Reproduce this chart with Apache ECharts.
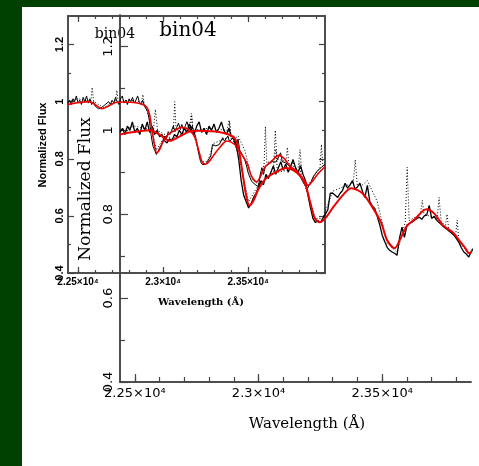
<!DOCTYPE html>
<html>
<head>
<meta charset="utf-8">
<script src="https://cdn.jsdelivr.net/npm/echarts@6/dist/echarts.min.js"></script>
<style>
  html, body { margin: 0; padding: 0; background: #004000; }
  #paper { position: absolute; left: 22px; top: 7px; width: 457px; height: 459px; background: #fff; }
  #chart { position: absolute; left: 0; top: 0; width: 479px; height: 466px; }
</style>
</head>
<body>
<div id="paper"></div>
<div id="chart"></div>
<script>
// observed spectrum (solid black)
const obsWave = [
  22440, 22450, 22460, 22470, 22480, 22490, 22500, 22510, 22520, 22530, 22540, 22550, 22560, 22570, 22580, 22590,
  22600, 22610, 22620, 22630, 22640, 22650, 22660, 22670, 22680, 22690,
  22700, 22710, 22720, 22730, 22740, 22750, 22760, 22770, 22780, 22790, 22800, 22810, 22820, 22830, 22840, 22850, 22860, 22870, 22880, 22890,
  22900, 22910, 22920, 22930, 22940, 22950, 22960, 22970, 22980, 22990,
  23000, 23010, 23020, 23030, 23040, 23050, 23060, 23070, 23080, 23090, 23100, 23110, 23120, 23130, 23140, 23150, 23160, 23170, 23180, 23190,
  23200, 23210, 23220, 23230, 23240, 23250, 23260, 23270, 23280, 23290,
  23300, 23310, 23320, 23330, 23340, 23350, 23360, 23370, 23380, 23390, 23400, 23410, 23420, 23430, 23440, 23450, 23460, 23470, 23480, 23490,
  23500, 23510, 23520, 23530, 23540, 23550, 23560, 23570, 23580, 23590,
  23600, 23610, 23620, 23630, 23640, 23650, 23660, 23670, 23680, 23690, 23700, 23710, 23720, 23730, 23740, 23750, 23760, 23770, 23780, 23790,
  23800, 23810, 23820, 23830, 23840, 23850, 23860, 23870, 23880, 23890, 23900, 23910, 23920, 23930, 23940, 23950
];
const obsFlux = [
  0.995, 1.005, 0.99, 1.01, 1.0, 1.02, 0.995, 1.005, 0.99, 1.015, 1.0, 1.02, 0.995, 1.01, 0.99, 1.0,
  0.985, 0.99, 0.975, 0.97, 0.98, 0.975, 0.99, 0.985, 1.0, 0.99,
  1.005, 0.995, 1.015, 1.0, 0.99, 1.01, 1.02, 0.995, 1.005, 0.99, 1.01, 1.0, 1.015, 0.995, 1.005, 1.02, 1.0, 0.99, 1.005, 0.985,
  0.985, 0.965, 0.93, 0.88, 0.845, 0.83, 0.815, 0.825, 0.84, 0.85,
  0.865, 0.88, 0.87, 0.895, 0.885, 0.9, 0.915, 0.895, 0.91, 0.925, 0.905, 0.92, 0.9, 0.915, 0.93, 0.91, 0.9, 0.915, 0.895, 0.88,
  0.845, 0.815, 0.79, 0.78, 0.785, 0.78, 0.79, 0.8, 0.81, 0.85,
  0.85, 0.845, 0.84, 0.85, 0.857, 0.874, 0.862, 0.87, 0.88, 0.86, 0.865, 0.874, 0.855, 0.84, 0.869, 0.83, 0.82, 0.814, 0.795, 0.775,
  0.75, 0.735, 0.721, 0.714, 0.71, 0.707, 0.702, 0.743, 0.769, 0.745,
  0.774, 0.778, 0.781, 0.785, 0.79, 0.793, 0.788, 0.796, 0.798, 0.821, 0.79, 0.795, 0.786, 0.78, 0.775, 0.769, 0.765, 0.76, 0.755, 0.75,
  0.742, 0.733, 0.72, 0.71, 0.705, 0.698, 0.71, 0.72, 0.735, 0.745, 0.75, 0.76, 0.765, 0.77, 0.775, 0.78
];

// second spectrum (dotted), with the emission spikes
const dotWave = [22440, 22500, 22575, 22583, 22592, 22650, 22720, 22728, 22736, 22800, 22873, 22881, 22889, 22920, 22960, 23000,
  23060, 23068, 23076, 23160, 23168, 23176, 23230, 23260, 23300, 23383, 23391, 23399, 23420, 23440, 23480, 23520, 23560,
  23593, 23601, 23609, 23655, 23662, 23669, 23722, 23730, 23738, 23755, 23762, 23769, 23796, 23803, 23810, 23850, 23900,
  23922, 23930, 23938, 23950];
const dotFlux = [1.0, 1.01, 1.0, 1.05, 1.0, 0.98, 1.0, 1.04, 1.0, 1.005, 1.0, 1.025, 0.99, 0.94, 0.83, 0.87,
  0.9, 1.0, 0.9, 0.91, 0.954, 0.89, 0.79, 0.79, 0.855, 0.875, 0.93, 0.87, 0.87, 0.88, 0.83, 0.73, 0.71,
  0.78, 0.912, 0.785, 0.8, 0.833, 0.8, 0.79, 0.84, 0.785, 0.77, 0.8, 0.765, 0.745, 0.786, 0.735, 0.705, 0.75,
  0.77, 0.85, 0.775, 0.78];

// model (red)
const modelWave = [22440, 22480, 22520, 22560, 22600, 22640, 22680, 22720, 22760, 22800, 22840, 22880, 22905, 22920, 22935,
  22950, 22963, 22980, 23000, 23030, 23070, 23110, 23140, 23170, 23190, 23210, 23228, 23248, 23270, 23300, 23340, 23375,
  23420, 23460, 23495, 23520, 23550, 23575, 23600, 23635, 23678, 23710, 23745, 23785, 23820, 23835, 23852, 23875, 23900,
  23925, 23950];
const modelFlux = [0.99, 0.995, 0.998, 1.0, 0.99, 0.975, 0.985, 0.997, 0.999, 0.998, 0.996, 0.99, 0.98, 0.955, 0.9,
  0.845, 0.821, 0.833, 0.86, 0.885, 0.9, 0.91, 0.905, 0.89, 0.87, 0.826, 0.79, 0.781, 0.79, 0.815, 0.845, 0.862,
  0.85, 0.817, 0.781, 0.738, 0.719, 0.743, 0.772, 0.79, 0.812, 0.802, 0.774, 0.757, 0.731, 0.72, 0.707, 0.72, 0.74,
  0.757, 0.772];

// tick positions
const xMajorTicks = [22500, 23000, 23500];
const xMinorTicks = [22500, 22600, 22700, 22800, 22900, 23000, 23100, 23200, 23300, 23400, 23500, 23600, 23700, 23800, 23900];
const yMajorTicks = [0.4, 0.6, 0.8, 1.0, 1.2];
const yMinorTicks = [0.5, 0.7, 0.9, 1.1];

const titleText = 'bin04';
const xTitle = 'Wavelength (Å)';
const yTitle = 'Normalized Flux';

// axis ranges of the two overlapping plots
const bigX = [22440, 23859], bigY = [0.4, 1.275];
const smallX = [22441, 23951], smallY = [0.4, 1.3];

const pair = (xs, ys) => xs.map((x, i) => [x, ys[i]]);
const inRange = (vals, r) => vals.filter(v => v >= r[0] && v <= r[1]);
const xFmt = v => (v / 10000) + '×10⁴';
const lineCol = '#444';

function xAx(grid, range, pos, ticks, len, label) {
  return {
    type: 'value', gridIndex: grid, position: pos, min: range[0], max: range[1],
    axisLine: { show: true, onZero: false, lineStyle: { color: lineCol, width: 1.5 } },
    axisTick: { show: true, inside: true, length: len, customValues: inRange(ticks, range), lineStyle: { color: lineCol, width: 1.2 } },
    axisLabel: label ? Object.assign({ show: true, customValues: inRange(ticks, range), formatter: xFmt, color: '#000' }, label) : { show: false },
    splitLine: { show: false }
  };
}
function yAx(grid, range, pos, ticks, len, label) {
  return {
    type: 'value', gridIndex: grid, position: pos, min: range[0], max: range[1],
    axisLine: { show: true, onZero: false, lineStyle: { color: lineCol, width: 1.5 } },
    axisTick: { show: true, inside: true, length: len, customValues: inRange(ticks, range), lineStyle: { color: lineCol, width: 1.2 } },
    axisLabel: label ? Object.assign({ show: true, customValues: inRange(ticks, range), rotate: 90, color: '#000' }, label) : { show: false },
    splitLine: { show: false }
  };
}

const bigLbl = { fontFamily: 'DejaVu Sans', fontSize: 13, margin: 5 };
const smallLbl = { fontFamily: 'Liberation Sans', fontWeight: 'bold', fontSize: 10, margin: 4 };

function specSeries(xi, yi, wRed, wObs) {
  return [
    { type: 'line', xAxisIndex: xi, yAxisIndex: yi, data: pair(dotWave, dotFlux), showSymbol: false, symbol: 'none',
      lineStyle: { color: '#000', width: 1, type: [1, 2] }, z: 2 },
    { type: 'line', xAxisIndex: xi, yAxisIndex: yi, data: pair(obsWave, obsFlux), showSymbol: false, symbol: 'none',
      lineStyle: { color: '#000', width: wObs }, z: 3 },
    { type: 'line', xAxisIndex: xi, yAxisIndex: yi, data: pair(modelWave, modelFlux), showSymbol: false, symbol: 'none', smooth: 0.3,
      lineStyle: { color: '#ee0000', width: wRed }, z: 4 }
  ];
}

const chart = echarts.init(document.getElementById('chart'), null, { renderer: 'canvas' });
chart.setOption({
  animation: false,
  backgroundColor: 'transparent',
  grid: [
    { left: 120, top: 15, width: 351, height: 367 },
    { left: 68, top: 16, width: 257, height: 257 }
  ],
  xAxis: [
    xAx(0, bigX, 'bottom', xMinorTicks, 5, null),
    xAx(0, bigX, 'bottom', xMajorTicks, 8, bigLbl),
    xAx(1, smallX, 'bottom', xMinorTicks, 3, null),
    xAx(1, smallX, 'bottom', xMajorTicks, 6, smallLbl),
    xAx(1, smallX, 'top', xMinorTicks, 3, null),
    xAx(1, smallX, 'top', xMajorTicks, 6, null)
  ],
  yAxis: [
    yAx(0, bigY, 'left', yMinorTicks, 5, null),
    yAx(0, bigY, 'left', yMajorTicks, 8, bigLbl),
    yAx(1, smallY, 'left', yMinorTicks, 3, null),
    yAx(1, smallY, 'left', yMajorTicks, 6, Object.assign({}, smallLbl, { fontSize: 11, margin: 3 })),
    yAx(1, smallY, 'right', yMinorTicks, 3, null),
    yAx(1, smallY, 'right', yMajorTicks, 6, null)
  ],
  series: specSeries(3, 3, 1.6, 1).concat(specSeries(1, 1, 2, 1.3)),
  graphic: [
    { type: 'text', x: 188, y: 31, style: { text: titleText, font: '20px "DejaVu Serif"', fill: '#000', align: 'center', verticalAlign: 'middle' } },
    { type: 'text', x: 115, y: 34, style: { text: titleText, font: '14px "DejaVu Serif"', fill: '#000', align: 'center', verticalAlign: 'middle' } },
    { type: 'text', x: 86, y: 189, rotation: Math.PI / 2, style: { text: yTitle, font: '17px "DejaVu Serif"', fill: '#000', align: 'center', verticalAlign: 'middle' } },
    { type: 'text', x: 43, y: 145, rotation: Math.PI / 2, style: { text: yTitle, font: 'bold 11px "Liberation Sans"', fill: '#000', align: 'center', verticalAlign: 'middle' } },
    { type: 'text', x: 307, y: 424, style: { text: xTitle, font: '15px "DejaVu Serif"', fill: '#000', align: 'center', verticalAlign: 'middle' } },
    { type: 'text', x: 201, y: 302, style: { text: xTitle, font: 'bold 10px "DejaVu Serif"', fill: '#000', align: 'center', verticalAlign: 'middle' } }
  ]
});
</script>
</body>
</html>
